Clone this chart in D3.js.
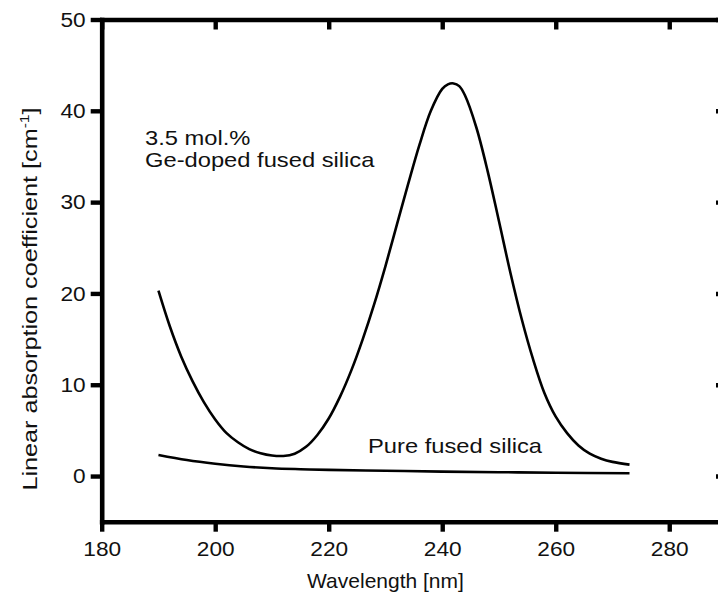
<!DOCTYPE html>
<html>
<head>
<meta charset="utf-8">
<script src="https://cdn.jsdelivr.net/npm/d3@7"></script>
<style>
  body { margin: 0; background: #fff; }
  svg text { font-family: "Liberation Sans", Arial, sans-serif; fill: #111; }
</style>
</head>
<body>
<div id="chart"></div>
<script>
// values
const geWavelength = [190, 192, 194, 196, 198, 200, 202, 204, 206, 208, 210, 212, 214, 216, 218, 220, 222, 224, 226, 228, 230, 232, 234, 236, 238, 240, 241, 242, 243, 244, 246, 248, 250, 252, 254, 256, 258, 260, 262, 264, 266, 268, 270, 273];
const geAbsorption = [20.3, 16.4, 13.1, 10.4, 8.1, 6.2, 4.7, 3.7, 2.95, 2.5, 2.25, 2.2, 2.45, 3.2, 4.5, 6.3, 8.7, 11.6, 15.0, 18.8, 23.0, 27.5, 32.0, 36.3, 40.0, 42.4, 42.9, 43.0, 42.7, 41.7, 38.2, 33.4, 27.9, 22.3, 17.2, 12.8, 9.1, 6.5, 4.7, 3.35, 2.45, 1.9, 1.55, 1.25];
const pureWavelength = [190, 195, 200, 205, 210, 215, 220, 230, 240, 250, 260, 273];
const pureAbsorption = [2.3, 1.75, 1.35, 1.05, 0.85, 0.75, 0.68, 0.58, 0.48, 0.42, 0.36, 0.3];
const xTicks = [180, 200, 220, 240, 260, 280];
const yTicks = [0, 10, 20, 30, 40, 50];

const width = 718, height = 599;
const svg = d3.select('#chart').append('svg')
  .attr('width', width)
  .attr('height', height);

const x = d3.scaleLinear().domain([180, 290]).range([101.7, 726]);
const y = d3.scaleLinear().domain([-5, 50]).range([521.7, 19.5]);

// the lettering in the original is a little wider than the font
const stretchText = (sel, k) => sel.each(function () {
  const t = d3.select(this);
  t.attr('x', (+t.attr('x') || 0) / k).attr('transform', `scale(${k},1)`);
});

const styleAxis = (g, labels) => {
  g.select('.domain').attr('stroke', '#000').attr('stroke-width', 4.6).attr('stroke-linecap', 'square');
  g.selectAll('.tick line').attr('stroke', '#000').attr('stroke-width', 4.4);
  g.selectAll('.tick text').style('font-size', '21px').attr('fill', '#111').call(stretchText, 1.08);
  if (!labels) g.selectAll('.tick text').remove();
};

// top and right frame with inward ticks
svg.append('g')
  .attr('transform', `translate(0,${y(50)})`)
  .call(d3.axisTop(x).tickValues(xTicks).tickSizeInner(-10).tickSizeOuter(0))
  .call(g => styleAxis(g, false));

svg.append('g')
  .attr('transform', `translate(${x(290)},0)`)
  .call(d3.axisRight(y).tickValues(yTicks).tickSizeInner(-10).tickSizeOuter(0))
  .call(g => styleAxis(g, false));

svg.append('g')
  .attr('transform', `translate(0,${y(-5)})`)
  .call(d3.axisBottom(x).tickValues(xTicks).tickSizeInner(10).tickSizeOuter(0).tickPadding(9))
  .call(g => styleAxis(g, true));

svg.append('g')
  .attr('transform', `translate(${x(180)},0)`)
  .call(d3.axisLeft(y).tickValues(yTicks).tickSizeInner(11).tickSizeOuter(0).tickPadding(5))
  .call(g => styleAxis(g, true));

const line = d3.line()
  .x(d => x(d[0]))
  .y(d => y(d[1]))
  .curve(d3.curveCatmullRom.alpha(0.5));

svg.append('path')
  .datum(d3.zip(geWavelength, geAbsorption))
  .attr('fill', 'none')
  .attr('stroke', '#000')
  .attr('stroke-width', 2.6)
  .attr('d', line);

svg.append('path')
  .datum(d3.zip(pureWavelength, pureAbsorption))
  .attr('fill', 'none')
  .attr('stroke', '#000')
  .attr('stroke-width', 2.6)
  .attr('d', line);

// annotations
const note = (tx, ty, anchor, str) => svg.append('g')
  .attr('transform', `translate(${tx},${ty}) scale(1.13,1)`)
  .append('text')
  .attr('text-anchor', anchor)
  .style('font-size', '21px')
  .text(str);

note(145, 145, 'start', '3.5 mol.%');
note(145, 167, 'start', 'Ge-doped fused silica');
note(542, 453, 'end', 'Pure fused silica');

// axis titles
svg.append('text')
  .attr('x', x(230)).attr('y', 588)
  .attr('text-anchor', 'middle')
  .style('font-size', '21px')
  .text('Wavelength [nm]');

const yTitle = svg.append('text')
  .attr('transform', 'translate(37,299) rotate(-90) scale(1.2,1)')
  .attr('text-anchor', 'middle')
  .style('font-size', '21px');
yTitle.append('tspan').text('Linear absorption coefficient [cm');
yTitle.append('tspan').attr('dy', -8).style('font-size', '13px').text('-1');
yTitle.append('tspan').attr('dy', 8).text(']');
</script>
</body>
</html>
